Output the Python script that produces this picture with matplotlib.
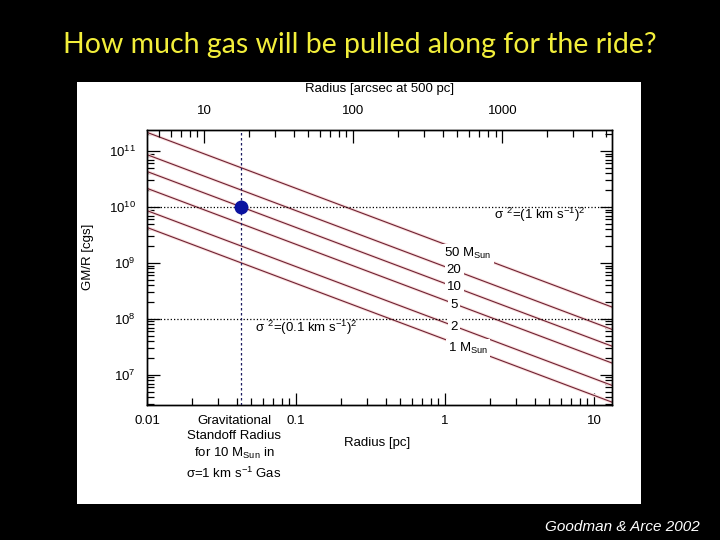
import matplotlib
matplotlib.use("Agg")
from matplotlib import pyplot as plt
from matplotlib.patches import Rectangle
from matplotlib.ticker import LogLocator, FixedLocator, FixedFormatter, NullFormatter
import matplotlib.patheffects as pe

plt.rcParams['font.family'] = ['Liberation Sans', 'DejaVu Sans']
plt.rcParams['mathtext.default'] = 'regular'

# GM/R lines for each mass, read at the two ends of the radius axis
masses = [1, 2, 5, 10, 20, 50]
radius_ends = [0.01, 13.2]
gm_r_left = [4.3e9, 8.6e9, 2.15e10, 4.3e10, 8.6e10, 2.15e11]
gm_r_right = [3.26e6, 6.5e6, 1.63e7, 3.26e7, 6.5e7, 1.63e8]

mass_labels = ['1 M$_{Sun}$', '2', '5', '10', '20', '50 M$_{Sun}$']
label_r = [1.42, 1.15, 1.15, 1.15, 1.15, 1.42]
label_gm = [3.0e7, 7.3e7, 1.8e8, 3.7e8, 7.4e8, 1.45e9]

sigma_levels = [1e10, 1e8]
standoff_r = 0.043
standoff_gm = 1e10

x_ticks = [0.01, 0.1, 1, 10]
x_ticklabels = ['0.01', '0.1', '1', '10']
top_ticks = [10, 100, 1000]
top_ticklabels = ['10', '100', '1000']
arcsec_per_pc = 206265 / 500.0

fig = plt.figure(figsize=(7.2, 5.4), dpi=100, facecolor='black')

# white panel behind the plot
fig.patches.append(Rectangle((77 / 720, 1 - 504 / 540), 564 / 720, 422 / 540,
                             transform=fig.transFigure, facecolor='white',
                             edgecolor='none', zorder=-5))

ax = fig.add_axes([147 / 720, 1 - 405 / 540, 465 / 720, 275 / 540])
ax.set_facecolor('white')
ax.set_xscale('log')
ax.set_yscale('log')
ax.set_xlim(0.01, 13.2)
ax.set_ylim(2.9e6, 2.37e11)

halo = [pe.Stroke(linewidth=2.2, foreground='#fadede'), pe.Normal()]
for left, right in zip(gm_r_left, gm_r_right):
    ax.plot(radius_ends, [left, right], color='#6e2232', lw=0.8,
            path_effects=halo, zorder=2)

for txt, r, g in zip(mass_labels, label_r, label_gm):
    ax.text(r, g, txt, fontsize=9.5, ha='center', va='center', zorder=4,
            bbox=dict(facecolor='white', edgecolor='none', pad=1.5))

for lev in sigma_levels:
    ax.axhline(lev, color='black', ls=':', lw=0.9, zorder=3)
ax.axvline(standoff_r, color='#1a1a60', ls=(0, (2, 2)), lw=0.9, zorder=3)
ax.plot([standoff_r], [standoff_gm], 'o', color='#0a12a0', ms=9, zorder=5)

ax.text(8.8, 7.2e9, r'$\sigma\ ^2$=(1 km s$^{-1}$)$^2$', fontsize=9.5,
        ha='right', va='center')
ax.text(0.053, 6.9e7, r'$\sigma\ ^2$=(0.1 km s$^{-1}$)$^2$', fontsize=9.5,
        ha='left', va='center')

# bottom axis
ax.xaxis.set_major_locator(FixedLocator(x_ticks))
ax.xaxis.set_major_formatter(FixedFormatter(x_ticklabels))
ax.xaxis.set_minor_locator(LogLocator(base=10, subs=range(2, 10)))
ax.xaxis.set_minor_formatter(NullFormatter())
ax.yaxis.set_major_locator(LogLocator(base=10, numticks=12))
ax.yaxis.set_minor_locator(LogLocator(base=10, subs=range(2, 10), numticks=12))
ax.yaxis.set_minor_formatter(NullFormatter())
ax.tick_params(which='both', direction='in', top=False, right=True,
               labelsize=9.5, width=0.9)
ax.tick_params(axis='x', which='major', length=9, pad=7)
ax.tick_params(axis='x', which='minor', length=5)
ax.tick_params(axis='y', which='major', length=9, pad=8)
ax.tick_params(axis='y', which='minor', length=5)

# top axis in arcsec at 500 pc
ax2 = ax.twiny()
ax2.set_xscale('log')
ax2.set_xlim(0.01 * arcsec_per_pc, 13.2 * arcsec_per_pc)
ax2.xaxis.set_major_locator(FixedLocator(top_ticks))
ax2.xaxis.set_major_formatter(FixedFormatter(top_ticklabels))
ax2.xaxis.set_minor_locator(LogLocator(base=10, subs=range(2, 10)))
ax2.xaxis.set_minor_formatter(NullFormatter())
ax2.tick_params(which='both', direction='in', labelsize=9.5, width=0.9)
ax2.tick_params(which='major', length=9, pad=9)
ax2.tick_params(which='minor', length=5)

for a in (ax, ax2):
    for s in a.spines.values():
        s.set_linewidth(1.0)

fig.text(380 / 720, 1 - 89 / 540, 'Radius [arcsec at 500 pc]', fontsize=9.5,
         ha='center', va='center')
fig.text(377 / 720, 1 - 443 / 540, 'Radius [pc]', fontsize=9.5,
         ha='center', va='center')
fig.text(88 / 720, 1 - 257 / 540, 'GM/R [cgs]', fontsize=9.5, rotation=90,
         ha='center', va='center')
fig.text(234 / 720, 1 - 448 / 540,
         'Gravitational\nStandoff Radius\nfor 10 M$_{Sun}$ in\n'
         r'$\sigma$=1 km s$^{-1}$ Gas',
         fontsize=9.5, ha='center', va='center', linespacing=1.35)

fig.text(360 / 720, 1 - 45 / 540, 'How much gas will be pulled along for the ride?',
         color='#f2ee3a', fontsize=20.5, ha='center', va='center', family='Lato')
fig.text(700 / 720, 1 - 527 / 540, 'Goodman & Arce 2002', color='white',
         fontsize=11, style='italic', ha='right', va='center')

fig.savefig('out.png', dpi=100, facecolor='black')
